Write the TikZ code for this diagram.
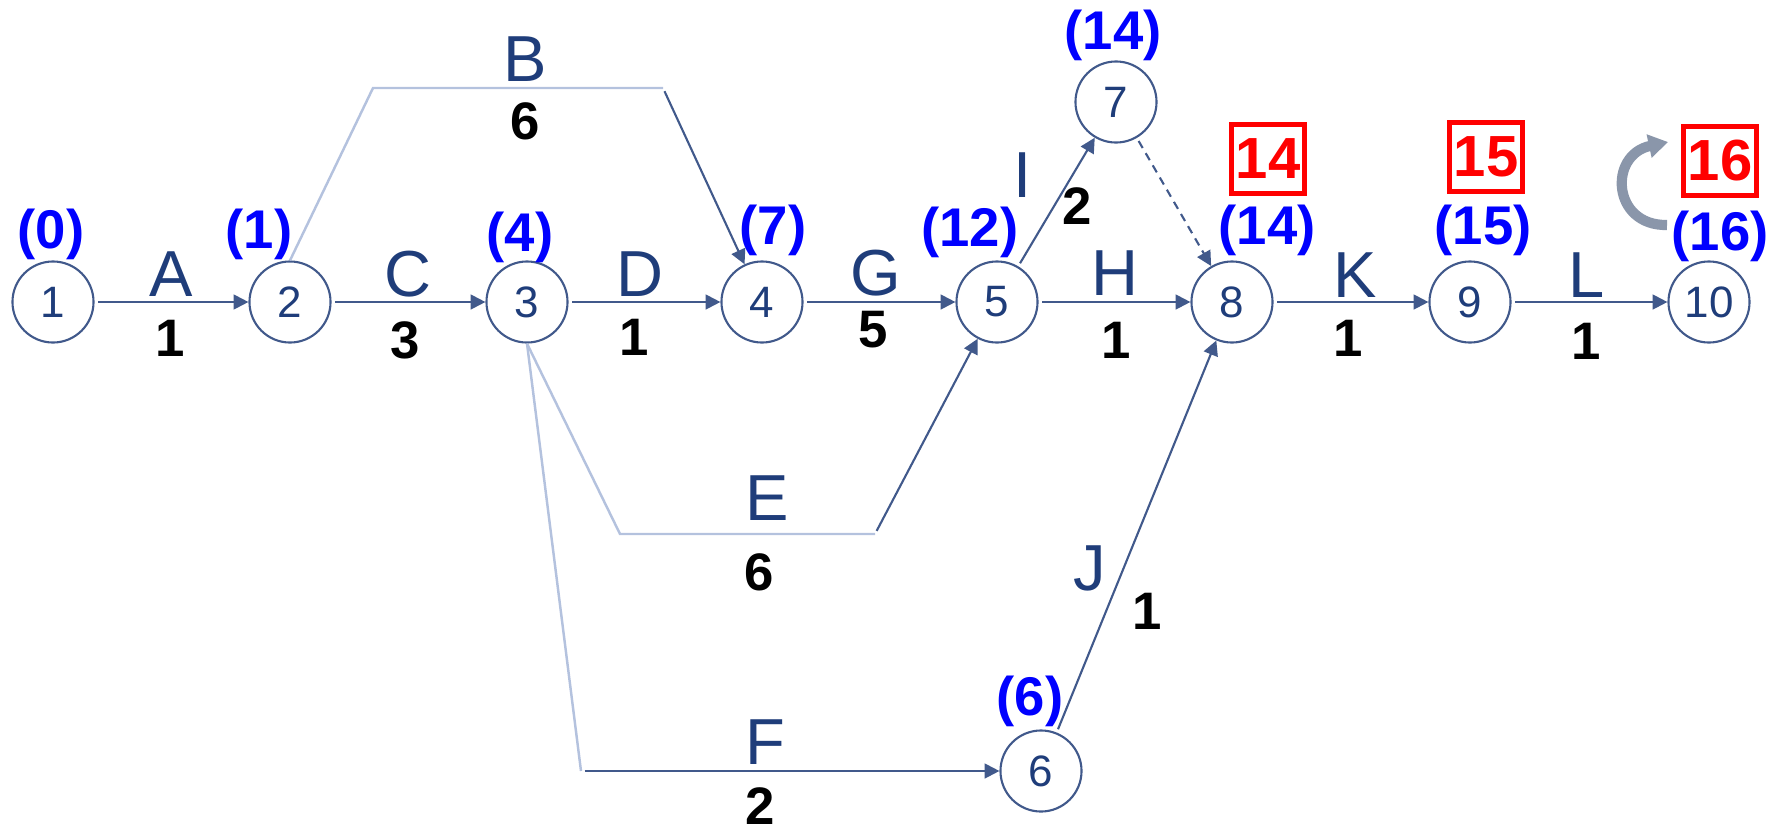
\documentclass[tikz,border=0pt]{standalone}
\usepackage{fontspec}
\setmainfont{Liberation Sans}
\usetikzlibrary{arrows.meta}

\definecolor{linec}{RGB}{65,89,139}
\definecolor{faint}{RGB}{180,194,222}
\definecolor{actc}{RGB}{31,61,122}
\definecolor{arcgrey}{RGB}{138,150,170}

\tikzset{
  evt/.style={circle, draw=linec, line width=0.6pt, minimum size=0.81cm, inner sep=0pt, text=actc, font=\fontsize{12.5}{12.5}\selectfont},
  arr/.style={draw=linec, line width=0.6pt, shorten <=1pt, -{Triangle[length=4.2pt,width=4.2pt]}},
  pale/.style={draw=faint, line width=0.7pt},
  act/.style={text=actc, inner sep=0pt, font=\fontsize{18.5}{18.5}\selectfont},
  dur/.style={inner sep=0pt, font=\fontsize{15}{15}\selectfont\bfseries},
  early/.style={text=blue, inner sep=0pt, font=\fontsize{15.5}{15.5}\selectfont\bfseries},
  late/.style={draw=red, text=red, line width=1.3pt, minimum width=0.73cm, minimum height=0.69cm, inner sep=0pt, font=\fontsize{16.5}{16.5}\selectfont\bfseries}
}

\begin{document}
\begin{tikzpicture}[x=0.01cm, y=-0.01cm]
\useasboundingbox (0,0) rectangle (1775,833);
% events
\node [evt] (n1) at (53,302) {1};
\node [evt] (n2) at (290,302) {2};
\node [evt] (n3) at (527,302) {3};
\node [evt] (n4) at (762,302) {4};
\node [evt] (n5) at (997,302) {5};
\node [evt] (n6) at (1041,771) {6};
\node [evt] (n7) at (1116,102) {7};
\node [evt] (n8) at (1232,302) {8};
\node [evt] (n9) at (1470,302) {9};
\node [evt] (n10) at (1709,302) {10};
% earliest times
\node [early] (e1) at (51,234) {(0)};
\node [early] (e2) at (259,234) {(1)};
\node [early] (e3) at (520,237) {(4)};
\node [early] (e4) at (773,230) {(7)};
\node [early] (e5) at (970,232) {(12)};
\node [early] (e6) at (1030,701) {(6)};
\node [early] (e7) at (1113,35) {(14)};
\node [early] (e8) at (1267,230) {(14)};
\node [early] (e9) at (1483,230) {(15)};
\node [early] (e10) at (1720,236) {(16)};
% latest times
\node [late] (t8) at (1268,159) {14};
\node [late] (t9) at (1486,157) {15};
\node [late] (t10) at (1720,161) {16};
% bends
\coordinate (b1) at (373,88);
\coordinate (b2) at (663,88);
\coordinate (c1) at (620,534);
\coordinate (c2) at (875,534);
\coordinate (f1) at (581,771);
% activities
\draw [arr] (n1)--(n2);
\draw [arr] (n2)--(n3);
\draw [arr] (n3)--(n4);
\draw [arr] (n4)--(n5);
\draw [arr] (n5)--(n8);
\draw [arr] (n8)--(n9);
\draw [arr] (n9)--(n10);
\draw [pale] (n2.north)--(b1)--(b2);
\draw [arr] (b2)--(n4);
\draw [pale] (n3.south)--(c1)--(c2);
\draw [arr] (c2)--(n5);
\draw [pale] (n3.south)--(f1);
\draw [arr] (f1)--(n6);
\draw [arr] (n5)--(n7);
\draw [arr, dash pattern=on 2.3pt off 1.7pt] (n7)--(n8);
\draw [arr] (n6)--(n8);
% letters
\node [act] (lA) at (171,274) {A};
\node [act] (lB) at (525,59) {B};
\node [act] (lC) at (408,274) {C};
\node [act] (lD) at (640,274) {D};
\node [act] (lE) at (767,498) {E};
\node [act] (lF) at (765,742) {F};
\node [act] (lG) at (876,273) {G};
\node [act] (lH) at (1115,273) {H};
\node [act] (lI) at (1023,175) {I};
\node [act] (lJ) at (1090,568) {J};
\node [act] (lK) at (1355,275) {K};
\node [act] (lL) at (1587,275) {L};
% durations
\node [dur] (dA) at (170,338) {1};
\node [dur] (dB) at (525,121) {6};
\node [dur] (dC) at (405,340) {3};
\node [dur] (dD) at (634,337) {1};
\node [dur] (dE) at (759,572) {6};
\node [dur] (dF) at (760,806) {2};
\node [dur] (dG) at (873,330) {5};
\node [dur] (dH) at (1116,340) {1};
\node [dur] (dI) at (1077,206) {2};
\node [dur] (dJ) at (1147,611) {1};
\node [dur] (dK) at (1348,338) {1};
\node [dur] (dL) at (1586,341) {1};
% turn arrow
\coordinate (g1) at (1667,225);
\coordinate (g2) at (1668,142);
\draw [arcgrey, line width=2.9pt, -{Triangle[length=5.5pt,width=6.5pt]}] (g1) .. controls (1612,226) and (1608,155) .. (g2);
\end{tikzpicture}
\end{document}
